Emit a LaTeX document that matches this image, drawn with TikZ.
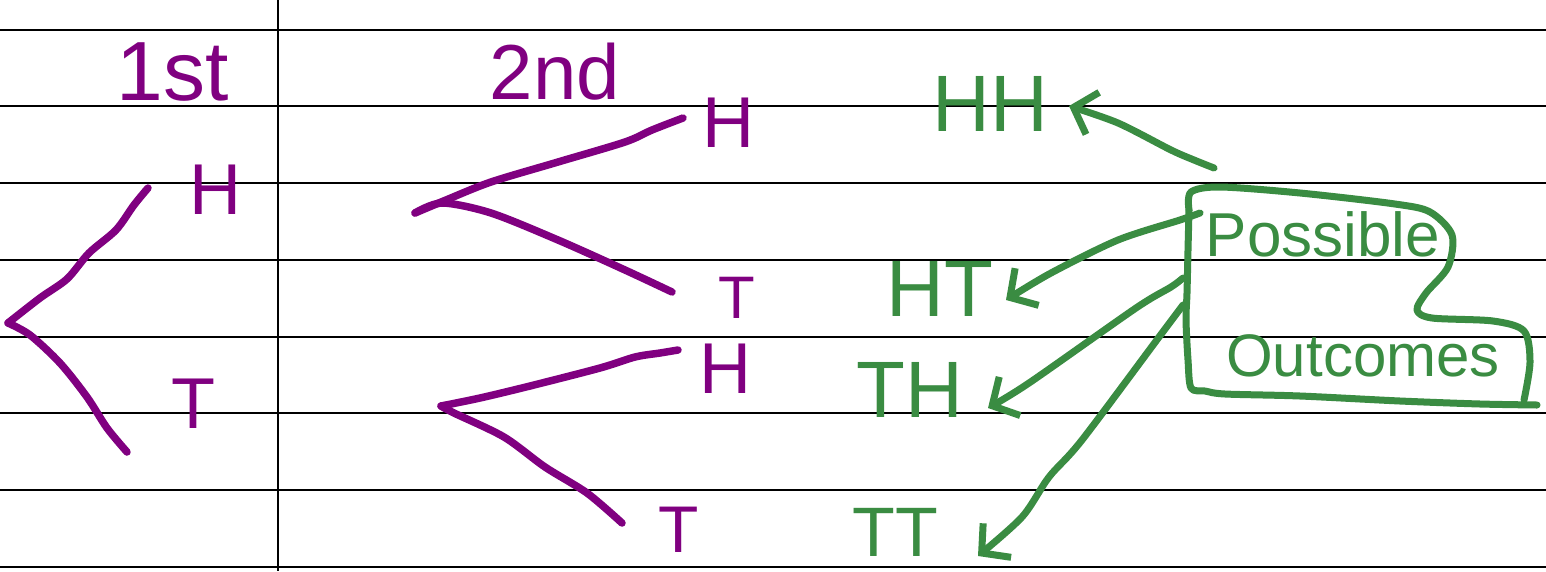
\documentclass[tikz,border=0pt]{standalone}
\usepackage{fontspec}
\setmainfont{Liberation Sans}
\usetikzlibrary{arrows.meta}
\definecolor{inkpurple}{RGB}{128,0,128}
\definecolor{inkgreen}{RGB}{58,140,66}
\tikzset{
  rule/.style={line width=2.6pt, black},
  branch/.style={line width=7.5pt, inkpurple, line cap=round, line join=round},
  garrow/.style={line width=7pt, inkgreen, line cap=round, line join=round,
    -{Straight Barb[length=20pt,width=44pt,line width=7pt]}},
  gline/.style={line width=7pt, inkgreen, line cap=round, line join=round},
  plab/.style={text=inkpurple, inner sep=0pt, font=\fontsize{72}{72}\selectfont},
  glab/.style={text=inkgreen, inner sep=0pt, font=\fontsize{80}{80}\selectfont},
}
\begin{document}
\begin{tikzpicture}[x=1pt,y=-1pt]
\useasboundingbox (0,0) rectangle (1546,571);
\fill[white] (0,0) rectangle (1546,571);
% ruled paper
\foreach \yy in {30,106,183,260,337,413,490,567}
  \draw[rule] (0,\yy) -- (1546,\yy);
\draw[rule] (278,0) -- (278,571);
% headings
\node[plab, font=\fontsize{84}{84}\selectfont] (first) at (173,72) {1st};
\node[plab, font=\fontsize{78}{78}\selectfont] (second) at (555,72) {2nd};
% labels of the tree
\node[plab] (H1) at (215,190) {H};
\node[plab] (T1) at (193,404) {T};
\node[plab] (HH2) at (728,123) {H};
\node[plab, font=\fontsize{60}{60}\selectfont] (HT2) at (737,298) {T};
\node[plab] (TH2) at (725,369) {H};
\node[plab, font=\fontsize{66}{66}\selectfont] (TT2) at (679,530) {T};
% tree coordinates
\coordinate (r1) at (8,323);
\coordinate (a1) at (148,188);
\coordinate (b1) at (127,452);
\coordinate (r2) at (415,213);
\coordinate (r2b) at (442,203);
\coordinate (a2) at (683,118);
\coordinate (b2) at (672,292);
\coordinate (r3) at (441,406);
\coordinate (a3) at (678,350);
\coordinate (b3) at (622,523);
% first toss
\draw[branch] plot[smooth] coordinates {(r1) (40,298) (67,279) (89,253) (116,230) (134,205) (a1)};
\draw[branch] plot[smooth] coordinates {(r1) (30,335) (60,363) (87,397) (107,428) (b1)};
% second toss (after H)
\draw[branch] plot[smooth] coordinates {(r2) (446,200) (491,182) (558,162) (625,142) (652,130) (a2)};
\draw[branch] plot[smooth] coordinates {(r2) (r2b) (491,213) (558,240) (625,270) (b2)};
% second toss (after T)
\draw[branch] plot[smooth] coordinates {(r3) (480,398) (530,386) (600,368) (635,357) (660,353) (a3)};
\draw[branch] plot[smooth] coordinates {(r3) (454,413) (504,437) (545,467) (587,493) (b3)};
% outcomes
\node[glab] (HH) at (990,104) {HH};
\node[glab] (HT) at (940,289) {HT};
\node[glab] (TH) at (910,390) {TH};
\node[glab, font=\fontsize{70}{70}\selectfont] (TT) at (895,532) {TT};
% possible outcomes box
\node[text=inkgreen, inner sep=0pt, font=\fontsize{62}{62}\selectfont] (poss) at (1323,234) {Possible};
\node[text=inkgreen, inner sep=0pt, font=\fontsize{60}{60}\selectfont] (outc) at (1363,356) {Outcomes};
\draw[gline] plot[smooth] coordinates {(1189,210) (1191,192) (1220,187) (1300,193) (1395,204) (1430,212) (1452,235) (1448,267) (1426,293) (1417,310) (1432,318) (1493,321) (1524,331) (1530,362) (1524,400)};
\draw[gline] plot[smooth] coordinates {(1537,405) (1480,404) (1400,401) (1300,396) (1225,394) (1205,391) (1191,388) (1188,360) (1186,320) (1187,293) (1188,250) (1189,210)};
% arrows to outcomes
\coordinate (sHH) at (1214,168);
\coordinate (sHT) at (1200,213);
\coordinate (sTH) at (1183,278);
\coordinate (sTT) at (1183,305);
\coordinate (eHH) at (1069,106);
\coordinate (eHT) at (1006,300);
\coordinate (eTH) at (988,408);
\coordinate (eTT) at (978,556);
\draw[garrow] plot[smooth] coordinates {(sHH) (1194,160) (1171,150) (1118,123) (eHH)};
\draw[garrow] plot[smooth] coordinates {(sHT) (1180,220) (1118,240) (1051,273) (eHT)};
\draw[garrow] plot[smooth] coordinates {(sTH) (1171,287) (1136,308) (1029,383) (eTH)};
\draw[garrow] plot[smooth] coordinates {(sTT) (1162,333) (1082,440) (1049,477) (1022,517) (eTT)};
\end{tikzpicture}
\end{document}
